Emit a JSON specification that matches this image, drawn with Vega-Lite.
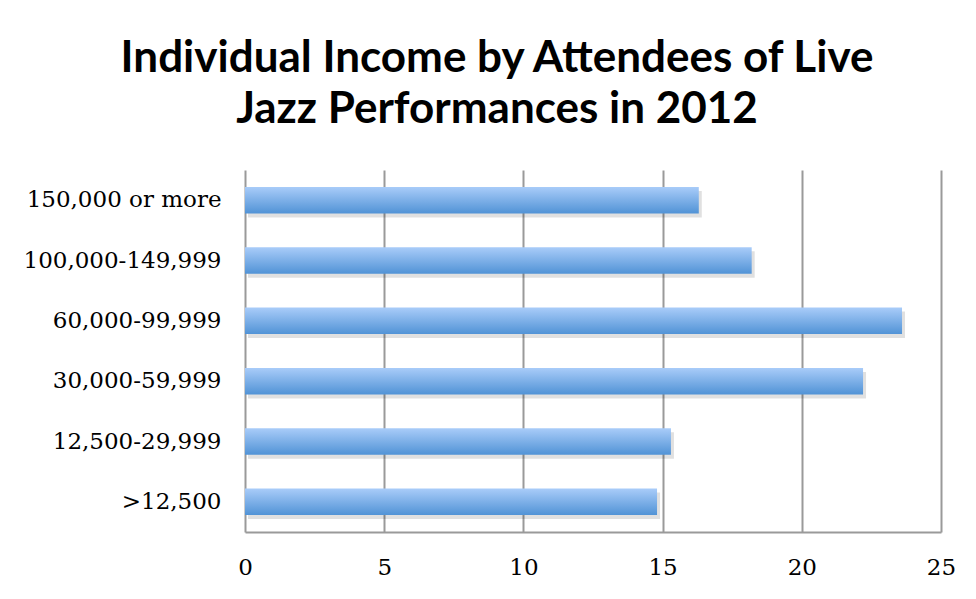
{
  "$schema": "https://vega.github.io/schema/vega-lite/v6.json",
  "autosize": "none",
  "width": 696,
  "height": 362,
  "padding": {"left": 245, "top": 170, "right": 35, "bottom": 67},
  "background": "white",
  "title": {
    "text": ["Individual Income by Attendees of Live", "Jazz Performances in 2012"],
    "font": "Lato",
    "fontSize": 44,
    "fontWeight": "bold",
    "color": "black",
    "anchor": "middle",
    "frame": "group",
    "dx": -96,
    "lineHeight": 51,
    "offset": 38
  },
  "data": {
    "values": [
      {"income": "150,000 or more", "value": 16.3},
      {"income": "100,000-149,999", "value": 18.2},
      {"income": "60,000-99,999", "value": 23.6},
      {"income": "30,000-59,999", "value": 22.2},
      {"income": "12,500-29,999", "value": 15.3},
      {"income": ">12,500", "value": 14.8}
    ]
  },
  "config": {
    "view": {"stroke": null},
    "axis": {
      "labelFont": "DejaVu Serif",
      "labelFontSize": 23,
      "labelColor": "black",
      "labelLimit": 400,
      "ticks": false,
      "title": null
    }
  },
  "encoding": {
    "y": {
      "field": "income",
      "type": "nominal",
      "sort": null,
      "scale": {"paddingInner": 0.56, "paddingOuter": 0.28},
      "axis": {"labelPadding": 24, "domain": false, "grid": false}
    },
    "x": {
      "field": "value",
      "type": "quantitative",
      "scale": {"domain": [0, 25], "nice": false},
      "axis": {
        "values": [0, 5, 10, 15, 20, 25],
        "grid": true,
        "gridColor": "#9a9a9a",
        "gridWidth": 2,
        "domainColor": "#9a9a9a",
        "domainWidth": 2,
        "labelPadding": 24,
        "labelFlush": false
      }
    }
  },
  "layer": [
    {
      "mark": {"type": "bar", "color": "#000000", "opacity": 0.12, "xOffset": 3, "yOffset": 4}
    },
    {
      "mark": {
        "type": "bar",
        "color": {
          "gradient": "linear",
          "x1": 0, "x2": 0, "y1": 0, "y2": 1,
          "stops": [
            {"offset": 0, "color": "#a9ccf9"},
            {"offset": 1, "color": "#5193d6"}
          ]
        }
      }
    }
  ]
}
